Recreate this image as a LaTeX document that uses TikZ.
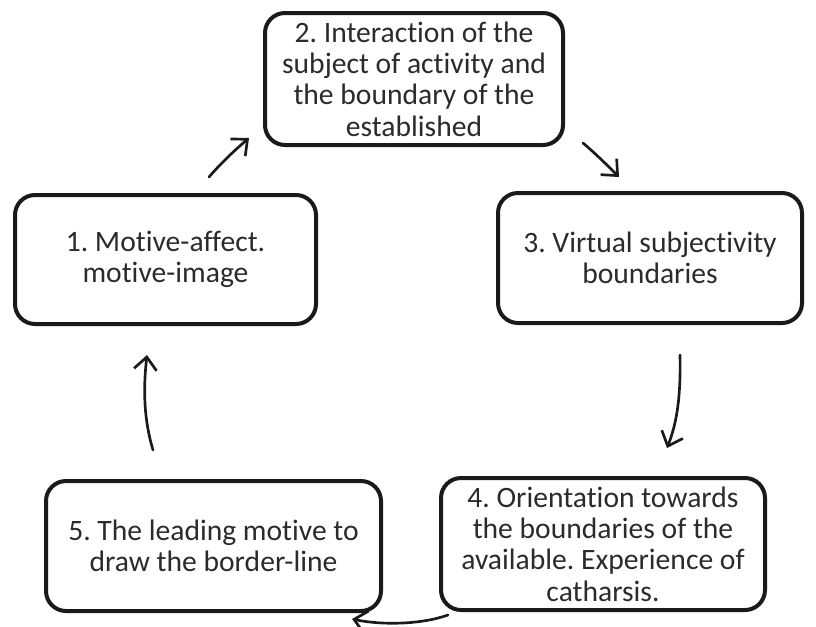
\documentclass[tikz,border=0pt]{standalone}
\usepackage{fontspec}
\setmainfont{Carlito}[Ligatures=NoCommon]
\usetikzlibrary{arrows.meta}
\definecolor{boxline}{HTML}{1A1A1A}
\definecolor{txt}{HTML}{2B2B2B}
\frenchspacing
\begin{document}
\begin{tikzpicture}[x=0.75pt,y=-0.75pt,
  stage/.style={draw=boxline, line width=3pt, rounded corners=15pt, inner sep=0pt,
    text=txt, align=center, font=\fontsize{22.2}{23.5}\selectfont},
  size/.style 2 args={minimum width={#1*0.75pt}, minimum height={#2*0.75pt}},
  flow/.style={draw=boxline, line width=2pt, line cap=round,
    -{Straight Barb[length=9.5pt,width=17pt,line width=2pt]}}]
  % canvas
  \useasboundingbox (0,0) rectangle (816,626);

  % stages of the cycle
  \node[stage, size={301}{129}] (b1) at (165.5,259.5)
    {1. Motive-affect.\\motive-image};
  \node[stage, size={298}{132}] (b2) at (414,79)
    {2. Interaction of the\\subject of activity and\\the boundary of the\\established};
  \node[stage, size={304}{130}] (b3) at (650,258)
    {3. Virtual subjectivity\\boundaries};
  \node[stage, size={324}{132}] (b4) at (603,544)
    {4. Orientation towards\\the boundaries of the\\available. Experience of\\catharsis.};
  \node[stage, size={335}{130}] (b5) at (213.5,546)
    {5. The leading motive to\\draw the border-line};

  % arrow end points in the gaps between stages
  \coordinate (s12) at (209,177);  \coordinate (e12) at (249,138);
  \coordinate (s23) at (583,143);  \coordinate (e23) at (619,177);
  \coordinate (s34) at (680,355);  \coordinate (e34) at (667,448);
  \coordinate (s45) at (448,615);  \coordinate (e45) at (352,619);
  \coordinate (s51) at (153,450);  \coordinate (e51) at (147,355);

  % cycle arrows
  \draw[flow] (s12) .. controls (222,162) and (235,150) .. (e12);
  \draw[flow] (s23) .. controls (596,154) and (608,166) .. (e23);
  \draw[flow] (s34) .. controls (681,400) and (676,425) .. (e34);
  \draw[flow] (s45) .. controls (420,625) and (380,625) .. (e45);
  \draw[flow] (s51) .. controls (144,420) and (143,390) .. (e51);
\end{tikzpicture}
\end{document}
